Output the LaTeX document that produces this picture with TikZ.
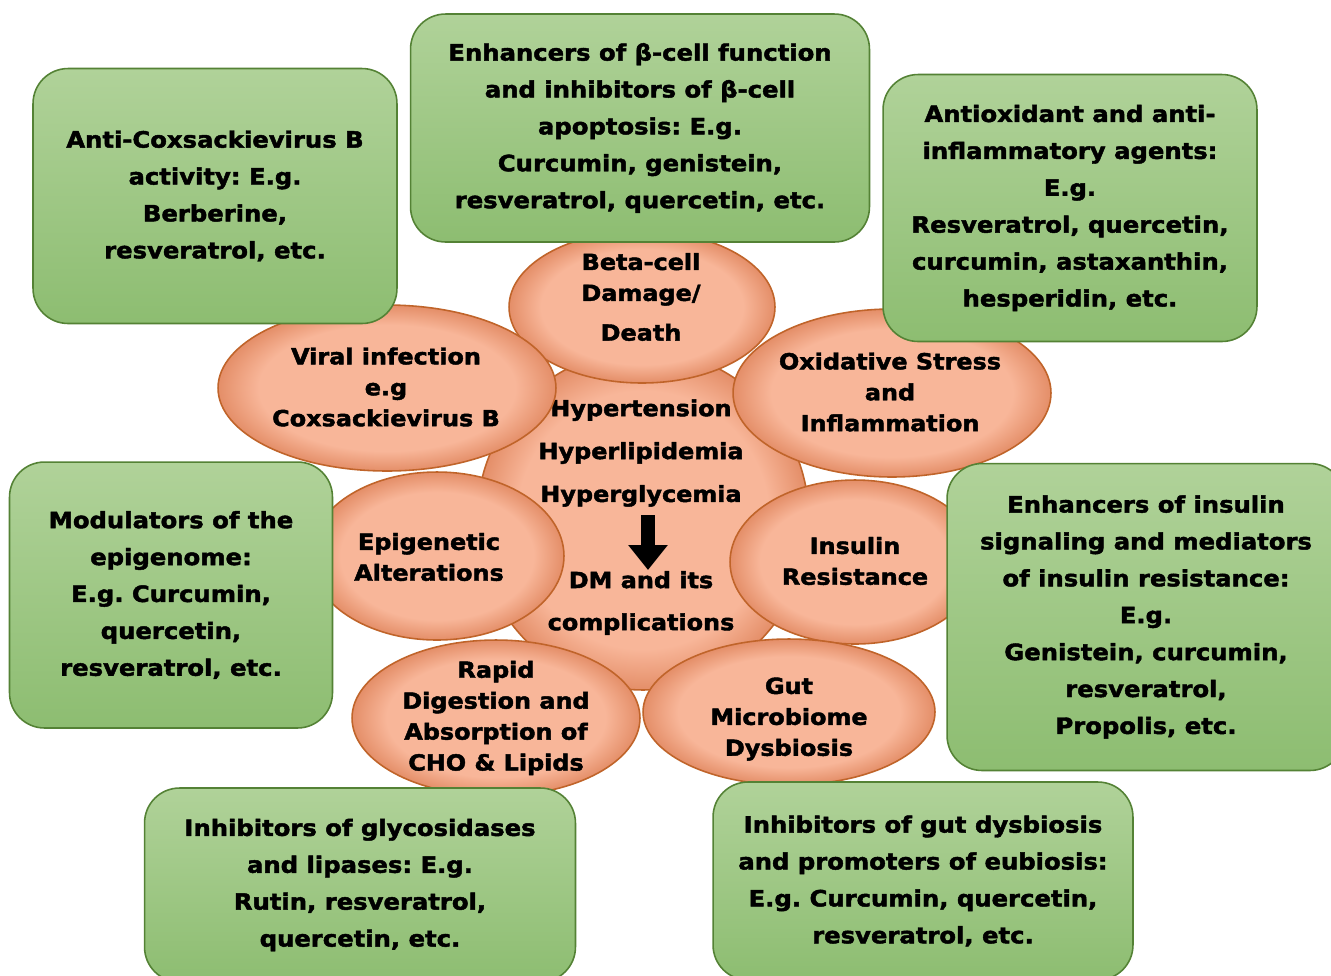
\documentclass[tikz,border=0pt]{standalone}
\usepackage{fontspec}
\setmainfont{DejaVu Sans}[BoldFeatures={FakeStretch=1.08,FakeBold=2}]
\usetikzlibrary{shapes.geometric,arrows.meta}
\frenchspacing
\definecolor{gtop}{RGB}{176,210,153}
\definecolor{gbot}{RGB}{141,189,113}
\definecolor{gline}{RGB}{84,130,53}
\definecolor{sinner}{RGB}{248,182,153}
\definecolor{souter}{RGB}{228,142,104}
\definecolor{sline}{RGB}{192,100,42}
\pgfdeclareradialshading{salmonglow}{\pgfpoint{0bp}{0bp}}{color(0bp)=(sinner); color(19bp)=(sinner); color(25bp)=(souter); color(50bp)=(souter)}
\tikzset{
  remedy/.style={draw=gline, line width=0.9pt, rounded corners=0.7cm, top color=gtop, bottom color=gbot,
    align=center, inner sep=0pt, font=\bfseries\fontsize{12.8}{21}\selectfont},
  cause/.style={ellipse, draw=sline, line width=0.9pt, shading=salmonglow, inner sep=0pt},
  causetext/.style={align=center, inner sep=0pt, font=\bfseries\fontsize{12.6}{17.6}\selectfont},
}
\begin{document}
\begin{tikzpicture}[x=0.02cm, y=-0.02cm]
  \clip (0,0) rectangle (1331,975);
  \fill[white] (0,0) rectangle (1331,975);
  % Elipse central
  \node[cause, minimum width=6.64cm, minimum height=6.8cm] (core) at (643,520) {};
  \node[causetext, font=\bfseries\fontsize{12.6}{24.4}\selectfont] (risks) at (641,453)
    {Hypertension\\Hyperlipidemia\\Hyperglycemia};
  \node[causetext, font=\bfseries\fontsize{12.6}{24}\selectfont] (dm) at (641,603)
    {DM and its\\complications};
  \coordinate (arrtop) at (648,515);
  \coordinate (arrtip) at (648,570);
  \draw[line width=0.28cm, -{Triangle[width=0.76cm, length=0.5cm]}] (arrtop) -- (arrtip);
  % Elipses
  \node[cause, minimum width=5.32cm, minimum height=3.04cm] (beta) at (642,307) {};
  \node[causetext] (betatext) at (641,297) {Beta-cell\\Damage/\\[5pt]Death};
  \node[cause, minimum width=6.76cm, minimum height=3.32cm] (virus) at (387,388) {};
  \node[causetext] (virustext) at (386,387) {Viral infection\\e.g\\Coxsackievirus B};
  \node[cause, minimum width=6.36cm, minimum height=3.36cm] (ox) at (892,393) {};
  \node[causetext] (oxtext) at (890,392) {Oxidative Stress\\and\\Inflammation};
  \node[cause, minimum width=5.08cm, minimum height=3.36cm] (epi) at (437,556) {};
  \node[causetext] (epitext) at (429,557) {Epigenetic\\Alterations};
  \node[cause, minimum width=5.0cm, minimum height=3.28cm] (ins) at (855,562) {};
  \node[causetext] (instext) at (855,561) {Insulin\\Resistance};
  \node[cause, minimum width=5.76cm, minimum height=3.12cm] (rapid) at (496,718) {};
  \node[causetext] (rapidtext) at (496,718) {Rapid\\Digestion and\\Absorption of\\CHO \& Lipids};
  \node[cause, minimum width=5.84cm, minimum height=2.92cm] (gut) at (789,712) {};
  \node[causetext] (guttext) at (789,719) {Gut\\Microbiome\\Dysbiosis};
  % Caixas verdes
  \node[remedy, minimum width=9.18cm, minimum height=4.56cm] (gbeta) at (640,128)
    {Enhancers of β-cell function\\and inhibitors of β-cell\\apoptosis: E.g.\\Curcumin, genistein,\\resveratrol, quercetin, etc.};
  \node[remedy, minimum width=7.28cm, minimum height=5.1cm] (gvirus) at (215,196)
    {Anti-Coxsackievirus B\\activity: E.g.\\Berberine,\\resveratrol, etc.};
  \node[remedy, minimum width=7.48cm, minimum height=5.34cm] (gox) at (1070,208)
    {Antioxidant and anti-\\inflammatory agents:\\E.g.\\Resveratrol, quercetin,\\curcumin, astaxanthin,\\hesperidin, etc.};
  \node[remedy, minimum width=6.46cm, minimum height=5.32cm] (gepi) at (171,595)
    {Modulators of the\\epigenome:\\E.g. Curcumin,\\quercetin,\\resveratrol, etc.};
  \node[remedy, minimum width=7.96cm, minimum height=6.14cm] (gins) at (1146,617)
    {Enhancers of insulin\\signaling and mediators\\of insulin resistance:\\E.g.\\Genistein, curcumin,\\resveratrol,\\Propolis, etc.};
  \node[remedy, minimum width=8.62cm, minimum height=3.88cm] (ggly) at (360,885)
    {Inhibitors of glycosidases\\and lipases: E.g.\\Rutin, resveratrol,\\quercetin, etc.};
  \node[remedy, minimum width=8.4cm, minimum height=3.96cm] (ggut) at (923,881)
    {Inhibitors of gut dysbiosis\\and promoters of eubiosis:\\E.g. Curcumin, quercetin,\\resveratrol, etc.};
\end{tikzpicture}
\end{document}
